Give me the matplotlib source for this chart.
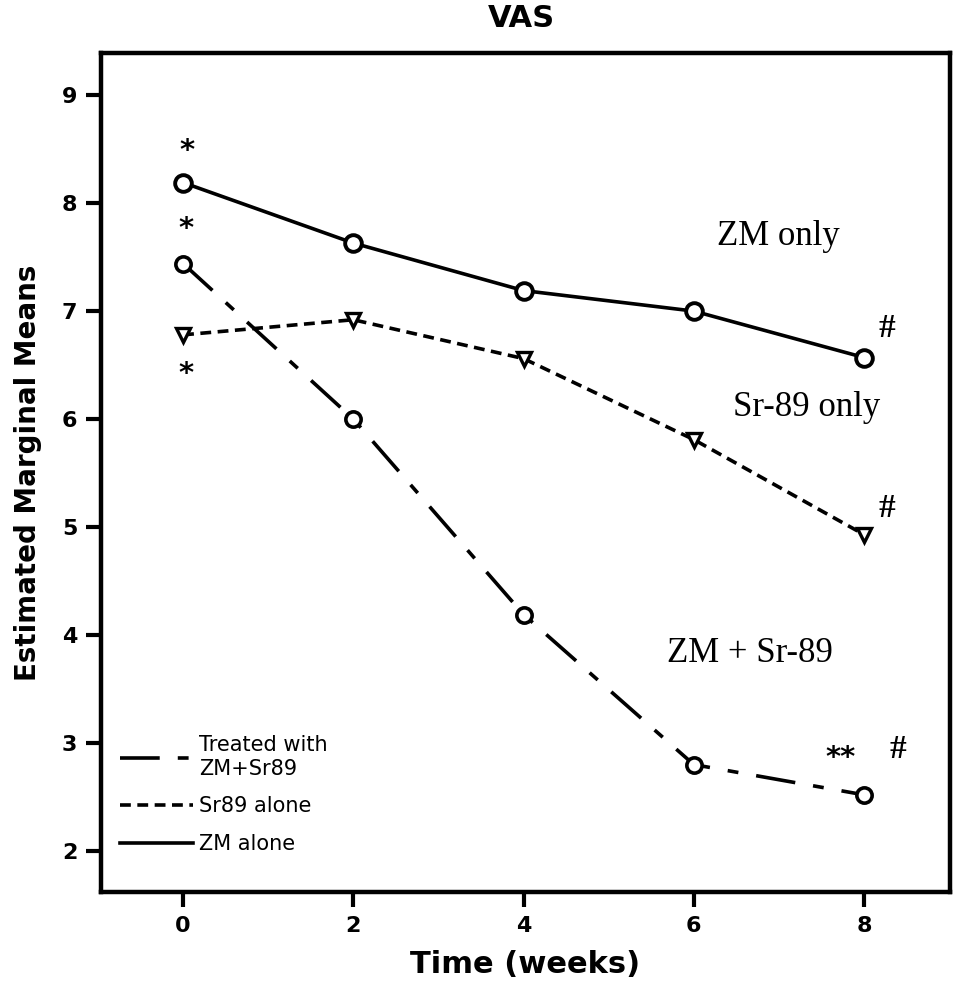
import matplotlib
matplotlib.use("Agg")
import matplotlib.pyplot as plt

# Datos
weeks = [0, 2, 4, 6, 8]
zm_alone = [8.19, 7.63, 7.19, 7.00, 6.57]
sr89_alone = [6.78, 6.92, 6.56, 5.81, 4.93]
zm_sr89 = [7.44, 6.00, 4.19, 2.80, 2.52]

fig = plt.figure(figsize=(9.57, 9.93), dpi=100)
ax = fig.add_axes([0.1055, 0.1017, 0.8872, 0.8449])

ax.plot(weeks, zm_sr89, color='black', lw=2.6, linestyle=(0, (11, 5, 3, 5)),
        marker='o', ms=11, mfc='white', mec='black', mew=2.6,
        label='Treated with\nZM+Sr89')
ax.plot(weeks, sr89_alone, color='black', lw=2.6, linestyle=(0, (3, 1.8)),
        marker='v', ms=10, mfc='white', mec='black', mew=2.4,
        label='Sr89 alone')
ax.plot(weeks, zm_alone, color='black', lw=2.6, linestyle='-',
        marker='o', ms=12, mfc='white', mec='black', mew=2.8,
        label='ZM alone')

ax.set_xlim(-0.965, 9.01)
ax.set_ylim(1.62, 9.39)
ax.set_xticks(weeks)
ax.set_yticks([2, 3, 4, 5, 6, 7, 8, 9])

for s in ax.spines.values():
    s.set_linewidth(3.2)
ax.tick_params(axis='both', direction='out', length=11, width=3, labelsize=16, pad=6)
for lab in ax.get_xticklabels() + ax.get_yticklabels():
    lab.set_fontweight('bold')

ax.set_xlabel('Time (weeks)', fontsize=22, fontweight='bold', labelpad=10)
ax.set_ylabel('Estimated Marginal Means', fontsize=20, fontweight='bold', labelpad=14)
fig.text(0.545, 0.981, 'VAS', ha='center', va='center', fontsize=22, fontweight='bold')

# Marcas de significancia
ax.text(0.05, 8.48, '*', ha='center', va='center', fontsize=21, fontweight='bold')
ax.text(0.03, 7.76, '*', ha='center', va='center', fontsize=21, fontweight='bold')
ax.text(0.03, 6.42, '*', ha='center', va='center', fontsize=21, fontweight='bold')
ax.text(8.27, 6.84, '#', ha='center', va='center', fontsize=24, family='Liberation Serif', fontweight='bold')
ax.text(8.27, 5.17, '#', ha='center', va='center', fontsize=24, family='Liberation Serif', fontweight='bold')
ax.text(7.72, 2.86, '**', ha='center', va='center', fontsize=21, fontweight='bold')
ax.text(8.4, 2.94, '#', ha='center', va='center', fontsize=24, family='Liberation Serif', fontweight='bold')

# Etiquetas de grupos
ax.text(6.99, 7.69, 'ZM only', ha='center', va='center', fontsize=25, family='Liberation Serif')
ax.text(7.32, 6.11, 'Sr-89 only', ha='center', va='center', fontsize=25, family='Liberation Serif')
ax.text(6.66, 3.83, 'ZM + Sr-89', ha='center', va='center', fontsize=25, family='Liberation Serif')

leg = ax.legend(loc='lower left', bbox_to_anchor=(0.0, 0.023), frameon=False,
                fontsize=15, handlelength=3.5, handletextpad=0.3,
                labelspacing=0.85, markerscale=0)
for h in leg.get_lines():
    h.set_marker('')

plt.savefig('out.png', dpi=100)
